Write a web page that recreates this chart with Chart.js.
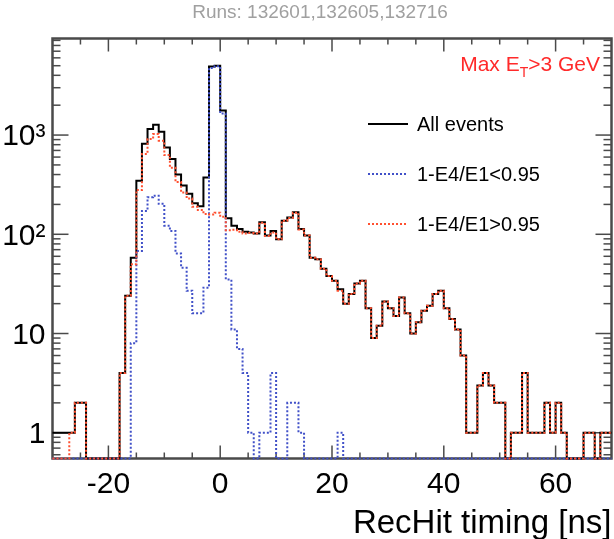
<!DOCTYPE html>
<html>
<head>
<meta charset="utf-8">
<title>RecHit timing</title>
<script src="https://cdn.jsdelivr.net/npm/chart.js@4.4.1/dist/chart.umd.min.js"></script>
<style>
  html, body { margin: 0; padding: 0; background: #fff; }
  canvas { display: block; }
</style>
</head>
<body>
<canvas id="chartTiming" width="614" height="539"></canvas>
<script>
const FONT = '"Liberation Sans", Arial, Helvetica, sans-serif';

// 1 ns bins from -30 to 70 ns
const X_MIN = -30;
const X_MAX = 70;
const BIN_EDGES = Array.from({ length: X_MAX - X_MIN + 1 }, (_, i) => X_MIN + i);

const Y_MIN = 0.55;
const Y_MAX = 9400;

const SERIES_LABELS = ['All events', '1-E4/E1<0.95', '1-E4/E1>0.95'];

// counts per bin, starting at t = -30 ns (10 bins per row)
const ALL_EVENTS = [
  1, 1, 1, 1, 2, 2, 0, 0, 0, 0,
  0, 0, 4, 24, 58, 347, 815, 1150, 1270, 1080,
  750, 575, 400, 310, 256, 206, 192, 373, 4900, 5000,
  1770, 145, 122, 113, 106, 104, 102, 132, 97, 108,
  89, 137, 148, 167, 113, 97, 58, 56, 45, 38,
  34, 28, 20, 25, 32, 34, 18, 9, 12, 21,
  18, 15, 23, 16, 10, 13, 17, 19, 25, 27,
  18, 14, 11, 6, 1, 1, 3, 4, 3, 2,
  2, 0, 1, 1, 4, 1, 1, 1, 2, 1,
  2, 1, 0, 0, 0, 1, 1, 0, 1, 1,
];

const LOW_RATIO = [
  0, 0, 0, 0, 0, 0, 0, 0, 0, 0,
  0, 0, 0, 0, 8, 68, 172, 236, 245, 203,
  122, 108, 64, 46, 27, 16, 16, 29, 4750, 4950,
  1650, 35, 11, 7, 4, 1, 0, 1, 1, 4,
  0, 0, 2, 2, 1, 0, 0, 0, 0, 0,
  0, 1, 0, 0, 0, 0, 0, 0, 0, 0,
  0, 0, 0, 0, 0, 0, 0, 0, 0, 0,
  0, 0, 0, 0, 0, 0, 0, 0, 0, 0,
  0, 0, 0, 0, 0, 0, 0, 0, 0, 0,
  0, 0, 0, 0, 0, 0, 0, 0, 0, 0,
];

const HIGH_RATIO = [
  0, 0, 0, 1, 2, 2, 0, 0, 0, 0,
  0, 0, 4, 24, 50, 279, 643, 914, 1025, 877,
  628, 467, 336, 264, 229, 190, 176, 160, 158, 165,
  150, 110, 111, 106, 102, 103, 102, 131, 96, 104,
  89, 137, 146, 165, 112, 97, 58, 56, 45, 38,
  34, 27, 20, 25, 32, 34, 18, 9, 12, 21,
  18, 15, 23, 16, 10, 13, 17, 19, 25, 27,
  18, 14, 11, 6, 1, 1, 3, 4, 3, 2,
  2, 0, 1, 1, 4, 1, 1, 1, 2, 1,
  2, 1, 0, 0, 0, 1, 1, 0, 1, 1,
];

const X_TICK_LABELS = [-20, 0, 20, 40, 60];
const Y_TICK_VALUES = [1, 10, 100, 1000];
const Y_TICK_LABELS = ['1', '10', '10²', '10³'];

const TITLE = 'Runs: 132601,132605,132716';
const X_TITLE = 'RecHit timing [ns]';

// histogram as step line: one point per lower edge, plus the last upper edge
function toSteps(values) {
  const points = values.map((v, i) => ({ x: BIN_EDGES[i], y: v > 0 ? v : Y_MIN }));
  points.push({ x: BIN_EDGES[values.length], y: points[points.length - 1].y });
  return points;
}

function line(ctx, x1, y1, x2, y2) {
  ctx.beginPath();
  ctx.moveTo(x1, y1);
  ctx.lineTo(x2, y2);
  ctx.stroke();
}

const rootFrame = {
  id: 'rootFrame',
  beforeDatasetsDraw(chart) {
    const { ctx, chartArea: a, scales: { x, y } } = chart;
    ctx.save();
    ctx.strokeStyle = '#4a4a4a';
    ctx.lineWidth = 2.5;
    ctx.strokeRect(a.left, a.top, a.right - a.left, a.bottom - a.top);

    ctx.lineWidth = 1.5;
    for (let v = X_MIN + 5; v < X_MAX; v += 5) {
      const px = x.getPixelForValue(v);
      const len = X_TICK_LABELS.includes(v) ? 13 : 6;
      line(ctx, px, a.bottom, px, a.bottom - len);
      line(ctx, px, a.top, px, a.top + len);
    }
    for (let d = -1; d <= 3; d++) {
      for (let m = 1; m <= 9; m++) {
        const v = m * Math.pow(10, d);
        if (v < Y_MIN || v > Y_MAX) continue;
        const py = y.getPixelForValue(v);
        const len = m === 1 ? 16 : 8;
        line(ctx, a.left, py, a.left + len, py);
        line(ctx, a.right, py, a.right - len, py);
      }
    }
    ctx.restore();
  },
  afterDatasetsDraw(chart) {
    const { ctx, chartArea: a, scales: { x, y } } = chart;
    ctx.save();
    ctx.fillStyle = '#000';

    ctx.font = `30px ${FONT}`;
    ctx.textAlign = 'center';
    ctx.textBaseline = 'middle';
    X_TICK_LABELS.forEach((v) => ctx.fillText(String(v), x.getPixelForValue(v), a.bottom + 26));

    ctx.textAlign = 'right';
    Y_TICK_VALUES.forEach((v, i) => ctx.fillText(Y_TICK_LABELS[i], a.left - 7, y.getPixelForValue(v) + 2));

    ctx.font = `33px ${FONT}`;
    ctx.textBaseline = 'alphabetic';
    ctx.fillText(X_TITLE, a.right, 533);

    ctx.font = `19px ${FONT}`;
    ctx.fillStyle = '#a0a0a0';
    ctx.textAlign = 'center';
    ctx.textBaseline = 'middle';
    ctx.fillText(TITLE, 320, 13);

    // Max E_T > 3 GeV
    ctx.fillStyle = '#ff2a2a';
    ctx.textAlign = 'left';
    ctx.textBaseline = 'alphabetic';
    ctx.font = `21px ${FONT}`;
    const w1 = ctx.measureText('Max E').width;
    const w3 = ctx.measureText('>3 GeV').width;
    ctx.font = `14px ${FONT}`;
    const w2 = ctx.measureText('T').width;
    const x0 = 600 - (w1 + w2 + w3);
    ctx.font = `21px ${FONT}`;
    ctx.fillText('Max E', x0, 71);
    ctx.fillText('>3 GeV', x0 + w1 + w2, 71);
    ctx.font = `14px ${FONT}`;
    ctx.fillText('T', x0 + w1, 77);

    // legend
    ctx.font = `20px ${FONT}`;
    ctx.textBaseline = 'middle';
    chart.data.datasets.forEach((ds, i) => {
      const ly = 124 + 50 * i;
      ctx.strokeStyle = ds.borderColor;
      ctx.lineWidth = ds.borderWidth;
      ctx.setLineDash(ds.borderDash || []);
      line(ctx, 368, ly, 408, ly);
      ctx.setLineDash([]);
      ctx.fillStyle = '#000';
      ctx.fillText(ds.label, 417, ly + 1);
    });
    ctx.restore();
  },
};

new Chart(document.getElementById('chartTiming').getContext('2d'), {
  type: 'line',
  data: {
    datasets: [
      {
        label: SERIES_LABELS[0],
        data: toSteps(ALL_EVENTS),
        borderColor: '#000',
        borderWidth: 2,
        order: 3,
      },
      {
        label: SERIES_LABELS[1],
        data: toSteps(LOW_RATIO),
        borderColor: '#4050c8',
        borderWidth: 2,
        borderDash: [2, 2],
        order: 2,
      },
      {
        label: SERIES_LABELS[2],
        data: toSteps(HIGH_RATIO),
        borderColor: '#ff5030',
        borderWidth: 2,
        borderDash: [2, 2],
        order: 1,
      },
    ],
  },
  options: {
    responsive: false,
    animation: false,
    devicePixelRatio: 1,
    events: [],
    clip: false,
    layout: { padding: { left: 52.5, right: 2.5, top: 38.5, bottom: 80.5 } },
    elements: {
      point: { radius: 0 },
      line: { stepped: true, tension: 0, fill: false },
    },
    scales: {
      x: { type: 'linear', min: X_MIN, max: X_MAX, display: false },
      y: { type: 'logarithmic', min: Y_MIN, max: Y_MAX, display: false },
    },
    plugins: {
      legend: { display: false },
      tooltip: { enabled: false },
    },
  },
  plugins: [rootFrame],
});
</script>
</body>
</html>
